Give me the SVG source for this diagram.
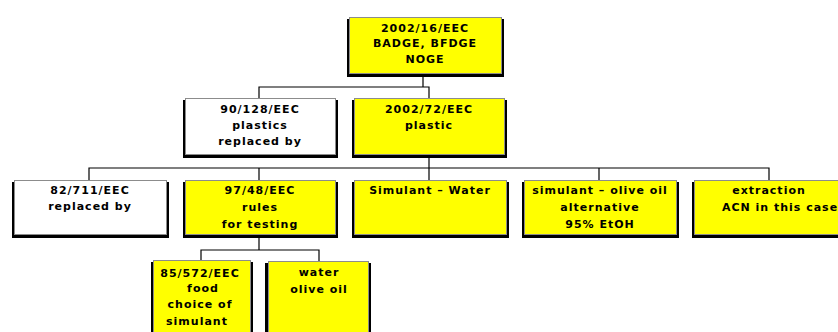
<svg xmlns="http://www.w3.org/2000/svg" width="838" height="332" viewBox="0 0 838 332">
<style>
.sh{fill:#000}
.bx{stroke:#8c8c8c;stroke-width:1}
.y{fill:#ffff00}
.w{fill:#ffffff}
text{font-family:"DejaVu Sans",Verdana,sans-serif;font-size:11px;font-weight:bold;letter-spacing:1px;fill:#000;text-anchor:middle}
.c{fill:none;stroke:#000;stroke-width:1.2}
</style>
<rect width="838" height="332" fill="#ffffff"/>
<g id="connectors">
<path class="c" d="M423 77V87M259 98V87H429V98"/>
<path class="c" d="M429 157V180M89 180V168H769V180M259 168V180M599 168V180"/>
<path class="c" d="M259 238V250M201 260V250H319V261"/>
</g>
<g id="n-2002-16">
<rect class="sh" x="347" y="19" width="157" height="58"/>
<rect class="bx y" x="349.5" y="17.5" width="152" height="56"/>
<text x="425" y="32">2002/16/EEC</text>
<text x="425" y="47">BADGE, BFDGE</text>
<text x="425" y="63">NOGE</text>
</g>
<g id="n-90-128">
<rect class="sh" x="183" y="100" width="155" height="58"/>
<rect class="bx w" x="185.5" y="98.5" width="150" height="56"/>
<text x="260" y="113">90/128/EEC</text>
<text x="260" y="129">plastics</text>
<text x="260" y="145">replaced by</text>
</g>
<g id="n-2002-72">
<rect class="sh" x="352" y="100" width="155" height="58"/>
<rect class="bx y" x="354.5" y="98.5" width="150" height="56"/>
<text x="429" y="113">2002/72/EEC</text>
<text x="429" y="129">plastic</text>
</g>
<g id="n-82-711">
<rect class="sh" x="12" y="182" width="157" height="56"/>
<rect class="bx w" x="14.5" y="180.5" width="152" height="54"/>
<text x="90" y="194">82/711/EEC</text>
<text x="90" y="210">replaced by</text>
</g>
<g id="n-97-48">
<rect class="sh" x="183" y="182" width="155" height="56"/>
<rect class="bx y" x="185.5" y="180.5" width="150" height="54"/>
<text x="260" y="194">97/48/EEC</text>
<text x="260" y="211">rules</text>
<text x="260" y="228">for testing</text>
</g>
<g id="n-water">
<rect class="sh" x="352" y="182" width="157" height="56"/>
<rect class="bx y" x="354.5" y="180.5" width="152" height="54"/>
<text x="430" y="194">Simulant – Water</text>
</g>
<g id="n-olive">
<rect class="sh" x="522" y="182" width="157" height="56"/>
<rect class="bx y" x="524.5" y="180.5" width="152" height="54"/>
<text x="600" y="194">simulant – olive oil</text>
<text x="600" y="211">alternative</text>
<text x="600" y="228">95% EtOH</text>
</g>
<g id="n-extraction">
<rect class="sh" x="692" y="182" width="160" height="56"/>
<rect class="bx y" x="694.5" y="180.5" width="155" height="54"/>
<text x="769" y="194">extraction</text>
<text x="780" y="211">ACN in this case</text>
</g>
<g id="n-85-572">
<rect class="sh" x="151" y="262" width="102" height="80"/>
<rect class="bx y" x="153.5" y="260.5" width="97" height="80"/>
<text x="200" y="277">85/572/EEC</text>
<text x="203" y="292">food</text>
<text x="200" y="308">choice of</text>
<text x="197" y="325">simulant</text>
</g>
<g id="n-water-olive">
<rect class="sh" x="265" y="263" width="106" height="80"/>
<rect class="bx y" x="268.5" y="261.5" width="100" height="80"/>
<text x="319" y="276">water</text>
<text x="319" y="293">olive oil</text>
</g>
</svg>
